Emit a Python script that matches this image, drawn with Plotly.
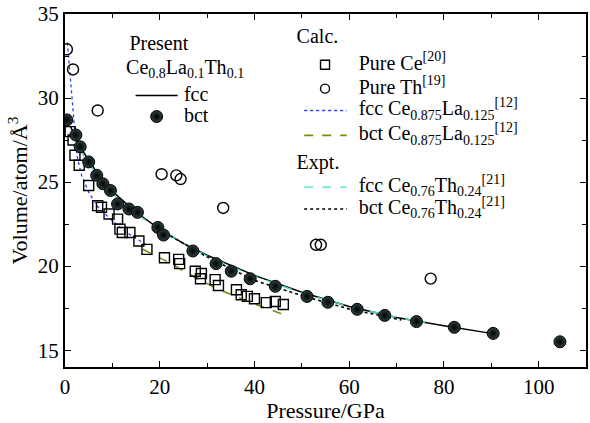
import plotly.graph_objects as go

# ---------------- data ----------------
# Present Ce0.8La0.1Th0.1 - bct (spheres)
bct_p = [0.4, 2.3, 3.2, 5.0, 6.7, 8.0, 9.6, 11.1, 13.5, 15.3, 19.6, 20.8, 27.0, 31.9, 35.1, 39.1,
         44.4, 51.1, 55.5, 61.7, 67.5, 74.2, 82.2, 90.4, 104.5]
bct_v = [28.7, 27.8, 27.1, 26.2, 25.4, 24.9, 24.5, 23.7, 23.4, 23.2, 22.3, 21.85, 20.9, 20.15, 19.7, 19.25,
         18.8, 18.2, 17.85, 17.43, 17.07, 16.7, 16.36, 16.0, 15.5]

# Present fcc (solid line)
fcc_p = [1.2, 2.5, 5, 7.5, 10, 15, 20, 25, 30, 40, 50, 60, 70, 80, 90]
fcc_v = [28.3, 27.4, 26.3, 25.25, 24.45, 23.2, 22.2, 21.35, 20.65, 19.45, 18.45, 17.6, 16.95, 16.45, 16.0]

# Pure Ce (squares)
ce_p = [1.1, 1.7, 2.1, 3.0, 5.0, 6.9, 7.7, 9.3, 11.1, 11.6, 12.1, 13.7, 15.6, 17.3, 21.0, 24.0, 24.2,
        27.5, 28.8, 28.6, 31.7, 32.4, 36.2, 37.2, 38.5, 40.0, 42.5, 44.4, 46.1]
ce_v = [28.0, 27.5, 26.6, 26.0, 24.8, 23.6, 23.5, 23.1, 22.8, 22.2, 22.0, 22.0, 21.5, 21.0, 20.5, 20.4, 20.15,
        19.7, 19.56, 19.25, 19.2, 18.85, 18.6, 18.3, 18.2, 18.06, 17.83, 17.9, 17.72]

# Pure Th (circles)
th_p = [0.4, 1.7, 6.9, 20.4, 23.5, 24.4, 33.4, 53.0, 54.0, 77.2]
th_v = [32.9, 31.7, 29.26, 25.47, 25.4, 25.18, 23.46, 21.27, 21.27, 19.26]

# fcc Ce0.875La0.125 (blue dotted)
fla_p = [0.5, 1.0, 1.5, 2.0, 2.5, 3.5, 5.0, 7.0, 10.0, 13.0, 17.0]
fla_v = [33.3, 31.5, 30.0, 28.0, 26.6, 25.4, 24.4, 23.5, 22.7, 22.0, 21.3]

# bct Ce0.875La0.125 (olive dashed)
bla_p = [16.4, 22.1, 27.0, 32.0, 39.5, 47.3]
bla_v = [21.0, 20.2, 19.4, 18.67, 17.8, 17.0]

# fcc Ce0.76Th0.24 expt (cyan dashed)
fth_p = [3.0, 5, 10, 15, 20, 30, 40, 50, 60, 70, 76]
fth_v = [27.0, 26.1, 24.3, 23.1, 22.2, 20.6, 19.4, 18.4, 17.6, 16.95, 16.65]

# bct Ce0.76Th0.24 expt (black dotted)
bth_p = [20, 30, 40, 50, 60, 71]
bth_v = [22.15, 20.55, 19.15, 18.25, 17.45, 16.8]

x_ticks = [0, 20, 40, 60, 80, 100]
y_ticks = [15, 20, 25, 30, 35]

# legend texts
leg_x = [13.6, 12.9, 25.1, 25.1, 48.9, 62.0, 62.0, 62.0, 62.0, 48.9, 62.0, 62.0]
leg_y = [33.17, 31.75, 30.15, 28.9, 33.58, 31.98, 30.56, 29.26, 27.78, 26.07, 24.7, 23.4]
leg_t = [
    "Present",
    "Ce<sub>0.8</sub>La<sub>0.1</sub>Th<sub>0.1</sub>",
    "fcc",
    "bct",
    "Calc.",
    "Pure Ce<sup>[20]</sup>",
    "Pure Th<sup>[19]</sup>",
    "fcc Ce<sub>0.875</sub>La<sub>0.125</sub><sup>[12]</sup>",
    "bct Ce<sub>0.875</sub>La<sub>0.125</sub><sup>[12]</sup>",
    "Expt.",
    "fcc Ce<sub>0.76</sub>Th<sub>0.24</sub><sup>[21]</sup>",
    "bct Ce<sub>0.76</sub>Th<sub>0.24</sub><sup>[21]</sup>",
]

FONT = "Times New Roman, Liberation Serif, DejaVu Serif, serif"
sphere = dict(symbol="circle", size=12, color="#2f4242",
              gradient=dict(type="radial", color="#000000"),
              line=dict(color="#000000", width=1))

fig = go.Figure()

fig.add_trace(go.Scatter(x=fla_p, y=fla_v, mode="lines", line=dict(color="#2a3cff", width=1.3, dash="dot")))
fig.add_trace(go.Scatter(x=bla_p, y=bla_v, mode="lines", line=dict(color="#7a8a10", width=1.6, dash="dash")))
fig.add_trace(go.Scatter(x=fcc_p, y=fcc_v, mode="lines", line=dict(color="black", width=1.5)))
fig.add_trace(go.Scatter(x=fth_p, y=fth_v, mode="lines", line=dict(color="#40e0c8", width=1.4, dash="dash")))
fig.add_trace(go.Scatter(x=bth_p, y=bth_v, mode="lines", line=dict(color="black", width=1.6, dash="dot")))
fig.add_trace(go.Scatter(x=ce_p, y=ce_v, mode="markers",
                         marker=dict(symbol="square-open", size=10, color="black", line=dict(width=1.4))))
fig.add_trace(go.Scatter(x=th_p, y=th_v, mode="markers",
                         marker=dict(symbol="circle-open", size=11, color="black", line=dict(width=1.4))))
fig.add_trace(go.Scatter(x=bct_p, y=bct_v, mode="markers", marker=sphere))

# ---------------- legend keys ----------------
fig.add_trace(go.Scatter(x=[14.9, 23.8], y=[30.15, 30.15], mode="lines", line=dict(color="black", width=1.5)))
fig.add_trace(go.Scatter(x=[19.35], y=[28.9], mode="markers", marker=sphere))
fig.add_trace(go.Scatter(x=[54.9], y=[31.98], mode="markers",
                         marker=dict(symbol="square-open", size=9, color="black", line=dict(width=1.4))))
fig.add_trace(go.Scatter(x=[54.9], y=[30.56], mode="markers",
                         marker=dict(symbol="circle-open", size=9, color="black", line=dict(width=1.4))))
fig.add_trace(go.Scatter(x=[50.5, 59.5], y=[29.26, 29.26], mode="lines",
                         line=dict(color="#2a3cff", width=1.3, dash="dot")))
fig.add_trace(go.Scatter(x=[50.5, 59.5], y=[27.78, 27.78], mode="lines",
                         line=dict(color="#7a8a10", width=1.6, dash="dash")))
fig.add_trace(go.Scatter(x=[50.5, 59.5], y=[24.7, 24.7], mode="lines",
                         line=dict(color="#40e0c8", width=1.4, dash="dash")))
fig.add_trace(go.Scatter(x=[50.5, 59.5], y=[23.4, 23.4], mode="lines",
                         line=dict(color="black", width=1.6, dash="dot")))

fig.add_trace(go.Scatter(x=leg_x, y=leg_y, mode="text", text=leg_t, textposition="middle right",
                         textfont=dict(family=FONT, size=20, color="black"), cliponaxis=False))

axis_common = dict(showline=True, linecolor="black", linewidth=2, mirror="allticks",
                   ticks="inside", ticklen=6, tickwidth=1.3, tickcolor="black",
                   showgrid=False, zeroline=False,
                   tickfont=dict(family=FONT, size=21, color="black"))

fig.update_layout(
    width=590, height=423,
    margin=dict(l=65, r=2, t=12, b=56),
    paper_bgcolor="white", plot_bgcolor="white",
    showlegend=False,
    font=dict(family=FONT),
    xaxis=dict(range=[0, 110], tickvals=x_ticks,
               minor=dict(ticks="inside", ticklen=4, tickwidth=1.2, tickcolor="black", dtick=10, showgrid=False),
               title=dict(text="Pressure/GPa", font=dict(family=FONT, size=22, color="black"), standoff=6),
               **axis_common),
    yaxis=dict(range=[14, 35], tickvals=y_ticks,
               minor=dict(ticks="inside", ticklen=4, tickwidth=1.2, tickcolor="black", dtick=2.5, showgrid=False),
               title=dict(text="Volume/atom/Å<sup>3</sup>", font=dict(family=FONT, size=22, color="black"), standoff=4),
               **axis_common),
)

fig.write_html("out.html")
